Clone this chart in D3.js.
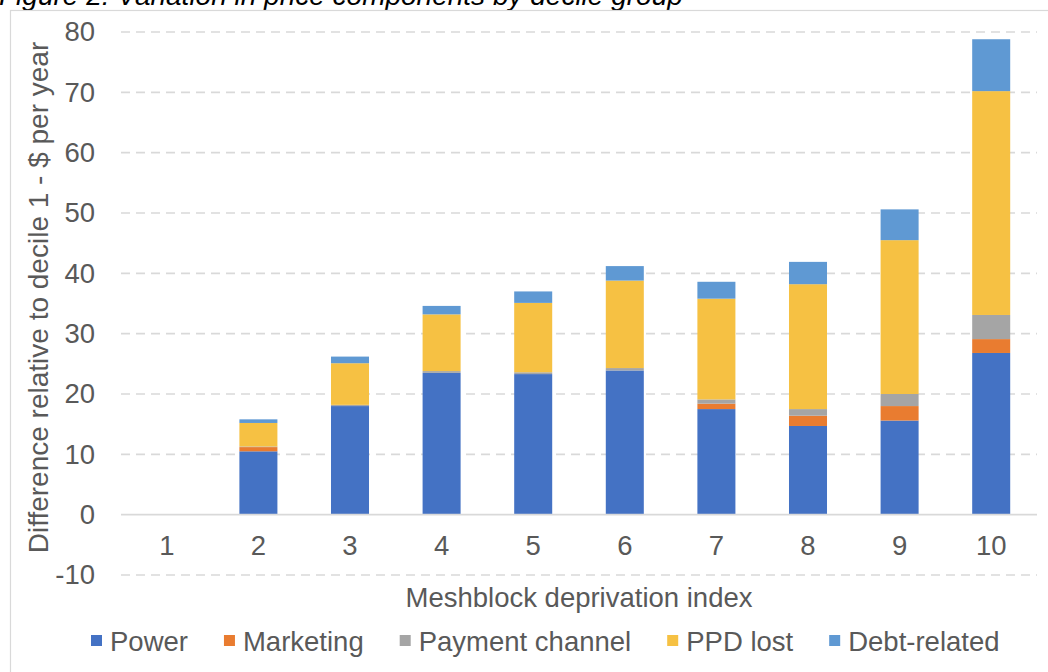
<!DOCTYPE html>
<html><head><meta charset="utf-8">
<script src="https://cdn.jsdelivr.net/npm/d3@7"></script>
<style>
html,body{margin:0;padding:0;background:#fff;}
svg{display:block;font-family:"Liberation Sans",Arial,sans-serif;}
</style></head>
<body>
<svg id="chart" width="1048" height="672"></svg>
<script>
const categories = ["1","2","3","4","5","6","7","8","9","10"];
const seriesNames = ["Power","Marketing","Payment channel","PPD lost","Debt-related"];
const seriesColors = ["#4472C4","#E97C30","#A5A5A5","#F6C143","#5F99D3"];
const power     = [0, 10.5, 18.0, 23.5, 23.3, 23.9, 17.5, 14.7, 15.6, 26.8];
const marketing = [0, 0.7,  0.0,  0.0,  0.0,  0.0,  0.9,  1.7,  2.4,  2.3];
const payment   = [0, 0.1,  0.2,  0.3,  0.3,  0.4,  0.7,  1.1,  2.0,  4.0];
const ppdLost   = [0, 3.9,  6.9,  9.4,  11.5, 14.5, 16.7, 20.7, 25.5, 37.1];
const debt      = [0, 0.6,  1.1,  1.4,  1.9,  2.4,  2.8,  3.7,  5.1,  8.6];
const yTicks = [-10,0,10,20,30,40,50,60,70,80];
const yTickLabels = ["-10","0","10","20","30","40","50","60","70","80"];
const title = "Figure 2: Variation in price components by decile group";
const xTitle = "Meshblock deprivation index";
const yTitle = "Difference relative to decile 1 - $ per year";

(function(){
const seriesValues = [power, marketing, payment, ppdLost, debt];
const rows = categories.map((c,i)=>{
  const r = {cat:c};
  seriesNames.forEach((s,j)=>{ r[s] = seriesValues[j][i]; });
  return r;
});

const svg = d3.select("#chart");
const pLeft = 121, pRight = 1037, pTop = 32, pBottom = 575;
const fs = 27.5;
const x = d3.scaleBand().domain(categories).range([pLeft,pRight]).paddingInner(0.585).paddingOuter(0.2925);
const y = d3.scaleLinear().domain([-10,80]).range([pBottom,pTop]);
const textCol = "#595959", lineCol = "#d9d9d9";

svg.append("text").attr("x",-1).attr("y",5).attr("font-size",28).attr("font-style","italic")
  .attr("fill","#000").text(title);

svg.append("rect").attr("x",10.5).attr("y",10.5).attr("width",1100).attr("height",700)
  .attr("fill","none").attr("stroke",lineCol).attr("stroke-width",1.2);

const grid = svg.append("g");
yTicks.filter(t=>t!==0).forEach(t=>{
  grid.append("line").attr("x1",pLeft).attr("x2",pRight).attr("y1",y(t)).attr("y2",y(t))
    .attr("stroke",lineCol).attr("stroke-width",1.6).attr("stroke-dasharray","9,6");
});

const yAxis = d3.axisLeft(y).tickValues(yTicks).tickSize(0).tickPadding(0)
  .tickFormat((d,i)=>yTickLabels[i]);
const yg = svg.append("g").attr("transform",`translate(${pLeft-26},0)`).call(yAxis);
yg.select(".domain").remove();
yg.selectAll("text").attr("font-size",fs).attr("fill",textCol).attr("font-family","Liberation Sans, Arial, sans-serif");

const stacked = d3.stack().keys(seriesNames)(rows);
svg.append("g").selectAll("g").data(stacked).join("g")
  .attr("fill",(d,i)=>seriesColors[i])
  .selectAll("rect").data(d=>d).join("rect")
  .attr("x",d=>x(d.data.cat)).attr("width",x.bandwidth())
  .attr("y",d=>y(d[1])).attr("height",d=>Math.max(0,y(d[0])-y(d[1])));

svg.append("line").attr("x1",pLeft).attr("x2",pRight).attr("y1",y(0)).attr("y2",y(0))
  .attr("stroke",lineCol).attr("stroke-width",1.6);

const xAxis = d3.axisBottom(x).tickSize(0).tickPadding(0);
const xg = svg.append("g").attr("transform",`translate(0,${y(0)+21})`).call(xAxis);
xg.select(".domain").remove();
xg.selectAll("text").attr("font-size",fs).attr("fill",textCol).attr("font-family","Liberation Sans, Arial, sans-serif");

svg.append("text").attr("x",(pLeft+pRight)/2).attr("y",607).attr("text-anchor","middle")
  .attr("font-size",fs).attr("fill",textCol).text(xTitle);
svg.append("text").attr("transform",`translate(48,${(40+555)/2}) rotate(-90)`).attr("text-anchor","middle")
  .attr("font-size",28).attr("fill",textCol).text(yTitle);

const lg = svg.append("g");
let lx = 91;
const ly = 641;
seriesNames.forEach((s,i)=>{
  lg.append("rect").attr("x",lx).attr("y",ly-6).attr("width",11).attr("height",11).attr("fill",seriesColors[i]);
  const t = lg.append("text").attr("x",lx+19).attr("y",ly+10).attr("font-size",fs).attr("fill",textCol).text(s);
  lx += 19 + t.node().getComputedTextLength() + 36;
});
})();
</script>
</body></html>
